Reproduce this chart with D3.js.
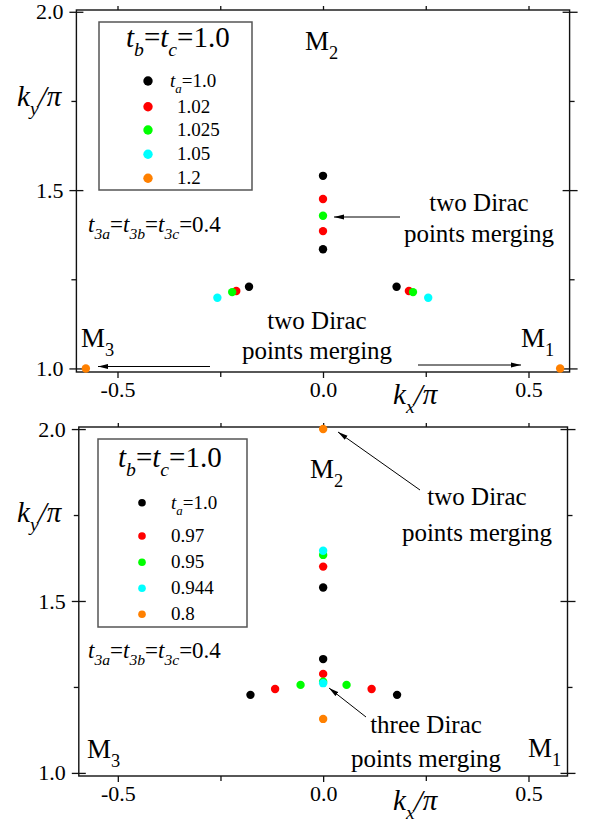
<!DOCTYPE html>
<html><head><meta charset="utf-8">
<script src="https://cdn.jsdelivr.net/npm/d3@7"></script>
<style>
body{margin:0;background:#fff}
svg{display:block}
text{font-family:"Liberation Serif","Times New Roman",Tinos,"DejaVu Serif","Noto Serif","FreeSerif","Nimbus Roman","Nimbus Roman No9 L",Times,serif;fill:#000}
</style>
</head><body>
<svg id="c" width="598" height="836"></svg>
<script>
// ---------- data ----------
const seriesColors = ["#000000", "#ff0000", "#00ff00", "#00ffff", "#ff8000"];
const topLegendValues = ["1.0", "1.02", "1.025", "1.05", "1.2"];
const bottomLegendValues = ["1.0", "0.97", "0.95", "0.944", "0.8"];
const xTickValues = [-0.5, 0.0, 0.5];
const xTickLabels = ["-0.5", "0.0", "0.5"];
const xMinorTicks = [-0.25, 0.25];
const yTickValues = [1.0, 1.5, 2.0];
const yTickLabels = ["1.0", "1.5", "2.0"];
const yMinorTicks = [1.25, 1.75];

// top panel (t_a >= 1): [kx, ky]
const topBlack  = [[0, 1.540], [0, 1.334], [-0.180, 1.229], [0.179, 1.229]];
const topRed    = [[0, 1.475], [0, 1.385], [-0.211, 1.217], [0.209, 1.217]];
const topGreen  = [[0, 1.428], [-0.221, 1.214], [0.219, 1.214]];
const topCyan   = [[-0.257, 1.198], [0.256, 1.198]];
const topOrange = [[-0.577, 1.0], [0.577, 1.0]];

// bottom panel (t_a <= 1): [kx, ky]
const botBlack  = [[0, 1.539], [0, 1.331], [-0.177, 1.227], [0.180, 1.227]];
const botRed    = [[0, 1.600], [0, 1.288], [-0.117, 1.244], [0.118, 1.244]];
const botGreen  = [[0, 1.634], [0, 1.265], [-0.055, 1.256], [0.057, 1.256]];
const botCyan   = [[0, 1.646], [0, 1.261]];
const botOrange = [[0, 2.0], [0, 1.157]];

// ---------- drawing ----------
const svg = d3.select("#c");
const FONT_SERIF = '"Liberation Serif","Times New Roman",Tinos,"DejaVu Serif","Noto Serif",FreeSerif,"Nimbus Roman","Nimbus Roman No9 L",Times,serif';

const defs = svg.append("defs");
defs.append("marker").attr("id", "arr").attr("viewBox", "0 0 10 6")
  .attr("refX", 10).attr("refY", 3).attr("markerWidth", 10).attr("markerHeight", 6)
  .attr("markerUnits", "userSpaceOnUse").attr("orient", "auto")
  .append("path").attr("d", "M0,0.6 L10,3 L0,5.4 Z").attr("fill", "#000");

function rich(g, x, y, size, parts, anchor) {
  const t = g.append("text").attr("x", x).attr("y", y)
    .attr("font-family", FONT_SERIF)
    .attr("font-size", size).attr("text-anchor", anchor || "start");
  let off = 0;
  parts.forEach(p => {
    const ts = t.append("tspan").text(p.t);
    if (p.i) ts.attr("font-style", "italic");
    const target = p.sub ? size * 0.32 : 0;
    if (p.sub) ts.attr("font-size", size * 0.68);
    if (target !== off) ts.attr("dy", target - off);
    off = target;
  });
  return t;
}

function drawPanel(cfg) {
  const g = svg.append("g");
  const x = d3.scaleLinear().domain(cfg.xDomain).range(cfg.xRange);
  const y = d3.scaleLinear().domain(cfg.yDomain).range(cfg.yRange);
  const [x0, x1] = cfg.xRange, [y0, y1] = [cfg.yRange[1], cfg.yRange[0]];

  const fmtX = d => xTickLabels[xTickValues.indexOf(d)];
  const fmtY = d => yTickLabels[yTickValues.indexOf(d)];

  const axB = g.append("g").attr("transform", `translate(0,${y1})`)
    .call(d3.axisBottom(x).tickValues(xTickValues).tickFormat(fmtX).tickSize(6).tickSizeOuter(0).tickPadding(3));
  const axBm = g.append("g").attr("transform", `translate(0,${y1})`)
    .call(d3.axisBottom(x).tickValues(xMinorTicks).tickFormat("").tickSize(5).tickSizeOuter(0));
  const axT = g.append("g").attr("transform", `translate(0,${y0})`)
    .call(d3.axisTop(x).tickValues(xTickValues.concat(xMinorTicks)).tickFormat("").tickSize(4).tickSizeOuter(0));
  const axL = g.append("g").attr("transform", `translate(${x0},0)`)
    .call(d3.axisLeft(y).tickValues(yTickValues).tickFormat(fmtY).tickSize(7).tickSizeOuter(0).tickPadding(6));
  axL.selectAll(".tick line").attr("x1", 7);
  const axLm = g.append("g").attr("transform", `translate(${x0},0)`)
    .call(d3.axisLeft(y).tickValues(yMinorTicks).tickFormat("").tickSize(5).tickSizeOuter(0));
  const axR = g.append("g").attr("transform", `translate(${x1},0)`)
    .call(d3.axisRight(y).tickValues(yTickValues).tickFormat("").tickSize(8).tickSizeOuter(0));
  axR.selectAll(".tick line").attr("x1", -7);
  const axRm = g.append("g").attr("transform", `translate(${x1},0)`)
    .call(d3.axisRight(y).tickValues(yMinorTicks).tickFormat("").tickSize(5).tickSizeOuter(0));

  [axB, axBm, axT, axL, axLm, axR, axRm].forEach(a => {
    a.attr("font-family", FONT_SERIF).attr("font-size", 22);
    a.select(".domain").remove();
    a.selectAll(".tick line").attr("stroke", "#111").attr("stroke-width", 1.3);
    a.selectAll("text").attr("font-family", FONT_SERIF).attr("font-size", 22).attr("fill", "#000");
  });

  g.append("rect").attr("x", x0).attr("y", y0).attr("width", x1 - x0).attr("height", y1 - y0)
    .attr("fill", "none").attr("stroke", "#111").attr("stroke-width", 1.4);

  rich(g, cfg.yLabelPos[0], cfg.yLabelPos[1], 29, [{t: "k", i: 1}, {t: "y", i: 1, sub: 1}, {t: "/π", i: 1}]);
  rich(g, cfg.xLabelPos[0], cfg.xLabelPos[1], 29, [{t: "k", i: 1}, {t: "x", i: 1, sub: 1}, {t: "/π", i: 1}]);

  const L = cfg.legend;
  g.append("rect").attr("x", L.box[0]).attr("y", L.box[1]).attr("width", L.box[2]).attr("height", L.box[3])
    .attr("fill", "#fff").attr("stroke", "#555").attr("stroke-width", 1.5);
  rich(g, L.title[0], L.title[1], 29, [{t: "t", i: 1}, {t: "b", i: 1, sub: 1}, {t: "="}, {t: "t", i: 1}, {t: "c", i: 1, sub: 1}, {t: "=1.0"}]);
  cfg.legendValues.forEach((v, k) => {
    const ry = L.rows[k];
    g.append("circle").attr("cx", L.dotX).attr("cy", ry).attr("r", L.dotR).attr("fill", seriesColors[k]);
    if (k === 0) rich(g, L.labelX0, ry + 6, 19, [{t: "t", i: 1}, {t: "a", i: 1, sub: 1}, {t: "=" + v}]);
    else rich(g, L.labelX, ry + 6, 19, [{t: v}]);
  });

  rich(g, cfg.t3Pos[0], cfg.t3Pos[1], 23, [
    {t: "t", i: 1}, {t: "3a", i: 1, sub: 1}, {t: "="},
    {t: "t", i: 1}, {t: "3b", i: 1, sub: 1}, {t: "="},
    {t: "t", i: 1}, {t: "3c", i: 1, sub: 1}, {t: "=0.4"}]);

  cfg.mLabels.forEach(m => rich(g, m.x, m.y, 27, [{t: "M"}, {t: m.s, sub: 1}]));

  cfg.series.forEach((pts, k) => {
    g.append("g").selectAll("circle").data(pts).join("circle")
      .attr("cx", d => x(d[0])).attr("cy", d => y(d[1])).attr("r", 4.2)
      .attr("fill", seriesColors[k]);
  });

  cfg.notes.forEach(n => {
    n.lines.forEach((s, i) => g.append("text").attr("x", n.x).attr("y", n.y + i * n.dy)
      .attr("font-family", FONT_SERIF)
      .attr("text-anchor", "middle").attr("font-size", 25).text(s));
  });
  cfg.arrows.forEach(a => {
    g.append("line").attr("x1", a[0]).attr("y1", a[1]).attr("x2", a[2]).attr("y2", a[3])
      .attr("stroke", "#000").attr("stroke-width", 1).attr("marker-end", "url(#arr)");
  });
}

drawPanel({
  xDomain: [-0.6, 0.6], xRange: [76.4, 569.6],
  yDomain: [0.99, 2.005], yRange: [372, 10],
  series: [topBlack, topRed, topGreen, topCyan, topOrange],
  legendValues: topLegendValues,
  legend: {box: [99, 22, 153, 168], title: [126, 47], dotX: 148, dotR: 4.7,
           rows: [81, 106.7, 130, 154.3, 178.3], labelX0: 170, labelX: 177},
  t3Pos: [88, 232],
  mLabels: [{x: 305, y: 50, s: "2"}, {x: 81, y: 347, s: "3"}, {x: 521, y: 347, s: "1"}],
  yLabelPos: [17, 106], xLabelPos: [393, 404],
  notes: [{x: 479, y: 211, dy: 31, lines: ["two Dirac", "points merging"]},
          {x: 317, y: 329, dy: 30, lines: ["two Dirac", "points merging"]}],
  arrows: [[400, 217, 334, 217], [210, 366.5, 98, 366.5], [418, 365, 521, 365]]
});

drawPanel({
  xDomain: [-0.595, 0.595], xRange: [78.8, 567.5],
  yDomain: [0.991, 2.006], yRange: [776, 427],
  series: [botBlack, botRed, botGreen, botCyan, botOrange],
  legendValues: bottomLegendValues,
  legend: {box: [98, 439, 149, 188], title: [118, 467], dotX: 142, dotR: 3.8,
           rows: [502.7, 536, 562.3, 588.3, 614.3], labelX0: 171, labelX: 171},
  t3Pos: [88, 658],
  mLabels: [{x: 310, y: 478, s: "2"}, {x: 87, y: 758, s: "3"}, {x: 528, y: 757, s: "1"}],
  yLabelPos: [17, 522], xLabelPos: [393, 810],
  notes: [{x: 477, y: 505, dy: 36, lines: ["two Dirac", "points merging"]},
          {x: 426, y: 733, dy: 34, lines: ["three Dirac", "points merging"]}],
  arrows: [[420, 490, 338, 432], [366, 717, 329, 688]]
});
</script>
</body></html>
